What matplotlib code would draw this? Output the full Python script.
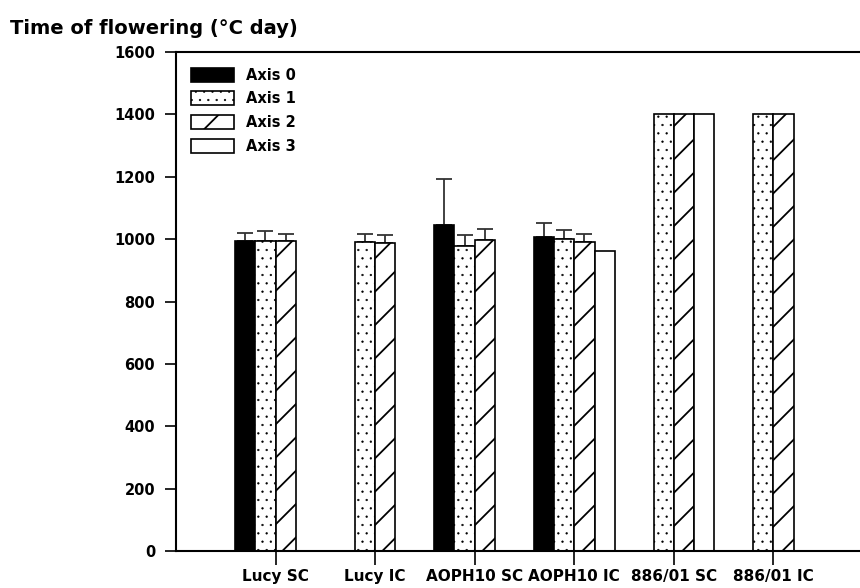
import numpy as np
import matplotlib
matplotlib.use("Agg")
import matplotlib.pyplot as plt

categories = ["Lucy SC", "Lucy IC", "AOPH10 SC", "AOPH10 IC", "886/01 SC", "886/01 IC"]
series_names = ["Axis 0", "Axis 1", "Axis 2", "Axis 3"]
axis0 = [993, np.nan, 1045, 1007, np.nan, np.nan]
axis1 = [995, 990, 979, 1001, 1400, 1400]
axis2 = [994, 986, 997, 992, 1400, 1400]
axis3 = [np.nan, np.nan, np.nan, 962, 1400, np.nan]
err0 = [27, 0, 149, 45, 0, 0]
err1 = [31, 25, 34, 27, 0, 0]
err2 = [23, 26, 37, 25, 0, 0]
err3 = [0, 0, 0, 0, 0, 0]
yticks = [0, 200, 400, 600, 800, 1000, 1200, 1400, 1600]

plt.rcParams['font.family'] = ['DejaVu Sans']
plt.rcParams['font.weight'] = 'bold'
plt.rcParams['hatch.linewidth'] = 1.3

fig = plt.figure(figsize=(8.6, 5.88), dpi=100)
W, H = 860, 588
left_px, right_px, top_px, bot_px = 176, 873, 52, 551
ax = fig.add_axes([left_px / W, 1 - bot_px / H, (right_px - left_px) / W, (bot_px - top_px) / H])

x = np.arange(len(categories))
w = 0.204
DOT_LW = 0.4
styles = [
    dict(facecolor='black', hatch=None, hlw=1.3),
    dict(facecolor='white', hatch='..', hlw=DOT_LW),
    dict(facecolor='white', hatch='/', hlw=1.3),
    dict(facecolor='white', hatch=None, hlw=1.3),
]
values = [axis0, axis1, axis2, axis3]
errs = [err0, err1, err2, err3]
for j, (vals, er, st, name) in enumerate(zip(values, errs, styles, series_names)):
    pos = x + (j - 1.5) * w
    vals = np.array(vals, dtype=float)
    er = np.array(er, dtype=float)
    bars = ax.bar(pos, vals, width=w, facecolor=st['facecolor'], hatch=st['hatch'],
                  edgecolor='black', linewidth=1.2, label=name, zorder=2)
    for b in bars:
        if hasattr(b, 'set_hatch_linewidth'):
            b.set_hatch_linewidth(st['hlw'])
    mask = er > 0
    if mask.any():
        ax.errorbar(pos[mask], vals[mask], yerr=[np.zeros(mask.sum()), er[mask]],
                    fmt='none', ecolor='#333333', elinewidth=1.3, capsize=6,
                    capthick=1.3, zorder=1)

ax.set_xlim(-1.0, 6.0)
ax.set_ylim(0, 1600)
ax.set_yticks(yticks)
ax.set_xticks(x)
ax.set_xticklabels(categories)
ax.tick_params(axis='x', direction='out', length=10, width=1.2, pad=3, labelsize=11)
ax.tick_params(axis='y', direction='out', length=8, width=1.2, pad=7, labelsize=10.5)
for lab in ax.get_xticklabels() + ax.get_yticklabels():
    lab.set_fontweight('bold')
for s in ['left', 'bottom', 'top', 'right']:
    ax.spines[s].set_linewidth(1.5)

leg = ax.legend(loc='upper left', bbox_to_anchor=(0.002, 0.995), frameon=False,
                handlelength=3.0, handleheight=1.1, labelspacing=0.6,
                handletextpad=0.8, prop={'weight': 'bold', 'size': 10.5})
for p in leg.get_patches():
    if hasattr(p, 'set_hatch_linewidth') and p.get_hatch() == '..':
        p.set_hatch_linewidth(DOT_LW)

fig.text(10 / W, 1 - 28 / H, "Time of flowering (°C day)", fontsize=14,
         fontweight='bold', va='center', ha='left')

fig.savefig("out.png", dpi=100)
